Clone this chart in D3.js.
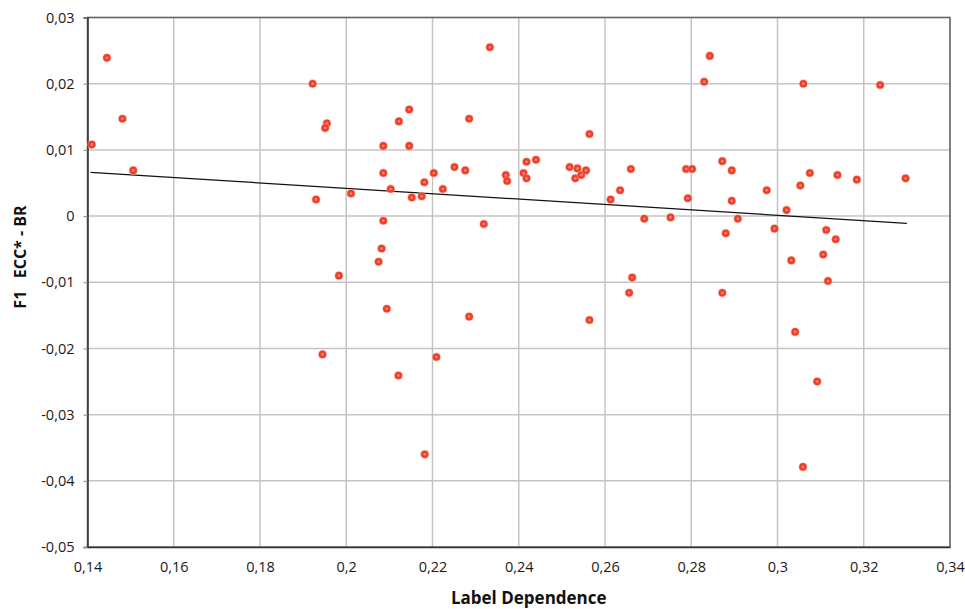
<!DOCTYPE html>
<html>
<head>
<meta charset="utf-8">
<script src="https://cdn.jsdelivr.net/npm/d3@7"></script>
<style>
  body { margin: 0; background: #fff; }
  .tick text { font-family: "Open Sans", sans-serif; font-size: 14.5px; fill: #1a1a1a; }
</style>
</head>
<body>
<div class="chart"></div>
<script>
// label dependence values (x)
const labelDep = [0.141, 0.1445, 0.1481, 0.1506, 0.1922, 0.193, 0.1955, 0.1951, 0.2333, 0.2146,
  0.2122, 0.2285, 0.2086, 0.2146, 0.2564, 0.2086, 0.2103, 0.2011, 0.2152, 0.2175,
  0.2181, 0.2203, 0.2224, 0.2251, 0.2276, 0.237, 0.2373, 0.2418, 0.244, 0.2411,
  0.2418, 0.2518, 0.2536, 0.2531, 0.2545, 0.2556, 0.266, 0.2635, 0.2613, 0.2691,
  0.2086, 0.2319, 0.2082, 0.2075, 0.1983, 0.2663, 0.2656, 0.2094, 0.2843, 0.283,
  0.306, 0.3238, 0.2788, 0.2802, 0.2872, 0.2894, 0.2792, 0.2894, 0.2752, 0.2908,
  0.288, 0.2975, 0.3021, 0.2993, 0.3053, 0.3075, 0.3139, 0.3184, 0.3297, 0.3113,
  0.3135, 0.3032, 0.3106, 0.3117, 0.2872, 0.1945, 0.2285, 0.2564, 0.2209, 0.2121,
  0.2182, 0.3041, 0.3092, 0.3059];
// F1 ECC* - BR values (y)
const f1Diff = [0.0108, 0.0239, 0.0147, 0.0069, 0.02, 0.0025, 0.014, 0.0133, 0.0255, 0.0161,
  0.0143, 0.0147, 0.0106, 0.0106, 0.0124, 0.0065, 0.0041, 0.0034, 0.0028, 0.003,
  0.0051, 0.0065, 0.0041, 0.0074, 0.0069, 0.0062, 0.0053, 0.0082, 0.0085, 0.0065,
  0.0057, 0.0074, 0.0072, 0.0057, 0.0062, 0.0069, 0.0071, 0.0039, 0.0025, -0.0004,
  -0.0007, -0.0012, -0.0049, -0.0069, -0.009, -0.0093, -0.0116, -0.0140, 0.0242, 0.0203,
  0.02, 0.0198, 0.0071, 0.0071, 0.0083, 0.0069, 0.0027, 0.0023, -0.0002, -0.0004,
  -0.0026, 0.0039, 0.0009, -0.0019, 0.0046, 0.0065, 0.0062, 0.0055, 0.0057, -0.0021,
  -0.0035, -0.0067, -0.0058, -0.0098, -0.0116, -0.0209, -0.0152, -0.0157, -0.0213, -0.0241,
  -0.036, -0.0175, -0.025, -0.0379];
// linear trend line end points
const trendX = [0.1407, 0.33];
const trendY = [0.0066, -0.0011];

const xTicks = [0.14, 0.16, 0.18, 0.2, 0.22, 0.24, 0.26, 0.28, 0.3, 0.32, 0.34];
const yTicks = [0.03, 0.02, 0.01, 0, -0.01, -0.02, -0.03, -0.04, -0.05];

const W = 965, H = 609;
const margin = {top: 17.5, right: 15, bottom: 62, left: 87.5};
const width = W - margin.left - margin.right;
const height = H - margin.top - margin.bottom;

const svg = d3.select(".chart").append("svg")
  .attr("width", W)
  .attr("height", H);

const g = svg.append("g")
  .attr("transform", "translate(" + margin.left + "," + margin.top + ")");

const x = d3.scaleLinear().domain([0.14, 0.34]).range([0, width]);
const y = d3.scaleLinear().domain([-0.05, 0.03]).range([height, 0]);

// decimal comma, plain hyphen for negatives
const fmt = d => d === 0 ? "0" : String(+d.toFixed(2)).replace(".", ",");

// grid
g.append("g")
  .selectAll("line.vg")
  .data(xTicks.slice(1))
  .enter().append("line")
  .attr("x1", d => x(d)).attr("x2", d => x(d))
  .attr("y1", 0).attr("y2", height)
  .attr("stroke", "#c4c4c4").attr("stroke-width", 1.5);

g.append("g")
  .selectAll("line.hg")
  .data(yTicks.slice(0, -1))
  .enter().append("line")
  .attr("x1", 0).attr("x2", width)
  .attr("y1", d => y(d)).attr("y2", d => y(d))
  .attr("stroke", "#c4c4c4").attr("stroke-width", 1.5);

// frame
g.append("rect")
  .attr("width", width).attr("height", height)
  .attr("fill", "none").attr("stroke", "#666").attr("stroke-width", 1.5);

// axes
const leftAxis = d3.axisLeft(y).tickValues(yTicks).tickFormat(fmt).tickSize(4).tickPadding(9);
g.append("g").attr("class", "left axis").call(leftAxis)
  .call(s => s.select(".domain").attr("stroke", "#333").attr("stroke-width", 1.5))
  .call(s => s.selectAll(".tick line").attr("stroke", "#888"));

const bottomAxis = d3.axisBottom(x).tickValues(xTicks).tickFormat(fmt).tickSize(0).tickPadding(15);
g.append("g").attr("class", "x axis")
  .attr("transform", "translate(0," + height + ")")
  .call(bottomAxis)
  .call(s => s.select(".domain").attr("stroke", "#333").attr("stroke-width", 1.5));

// trend line
g.append("line")
  .attr("x1", x(trendX[0])).attr("y1", y(trendY[0]))
  .attr("x2", x(trendX[1])).attr("y2", y(trendY[1]))
  .attr("stroke", "#111").attr("stroke-width", 1.3);

// points
const pts = labelDep.map((v, i) => ({x: v, y: f1Diff[i]}));
const dots = g.append("g").selectAll("g.dot")
  .data(pts).enter().append("g")
  .attr("transform", d => "translate(" + x(d.x) + "," + y(d.y) + ")");
dots.append("circle").attr("r", 4.6).attr("fill", "#f5b3a8").attr("opacity", 0.6);
dots.append("circle").attr("r", 3.8).attr("fill", "#ee3f2a");
dots.append("circle").attr("r", 1.3).attr("fill", "#f68a76");

// labels
svg.append("text")
  .attr("x", margin.left + width / 2 + 10)
  .attr("y", 604)
  .attr("text-anchor", "middle")
  .attr("font-family", "'Open Sans', sans-serif")
  .attr("font-weight", "bold")
  .attr("font-size", "17px")
  .attr("fill", "#111")
  .text("Label Dependence");

svg.append("text")
  .attr("transform", "translate(26," + 257 + ") rotate(-90)")
  .attr("text-anchor", "middle")
  .attr("font-family", "'Open Sans', sans-serif")
  .attr("font-weight", "bold")
  .attr("font-size", "16px")
  .attr("fill", "#111")
  .attr("xml:space", "preserve")
  .style("white-space", "pre")
  .text("F1   ECC* - BR");
</script>
</body>
</html>
